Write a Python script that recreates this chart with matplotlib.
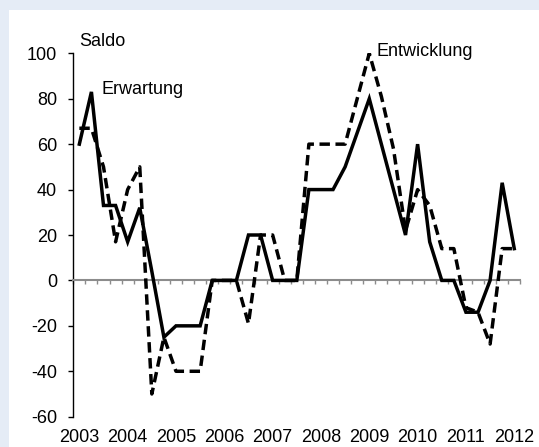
import matplotlib
matplotlib.use("Agg")
import matplotlib.pyplot as plt
from matplotlib.patches import Rectangle

plt.rcParams['font.family'] = ['Liberation Sans', 'DejaVu Sans']

# Quarterly data 2003Q1 .. 2012Q1
years = ["2003", "2004", "2005", "2006", "2007", "2008", "2009", "2010", "2011", "2012"]
erwartung = [60, 83, 33, 33, 17, 32, 4, -25,
             -20, -20, -20, 0, 0, 0, 20, 20,
             0, 0, 0, 40, 40, 40, 50, 65,
             80, 60, 40, 20, 60, 17, 0, 0,
             -14, -14, 0, 43, 14]
entwicklung = [67, 67, 50, 17, 40, 50, -50, -25,
               -40, -40, -40, 0, 0, 0, -19, 20,
               20, 0, 0, 60, 60, 60, 60, 80,
               100, 81, 58, 22, 40, 33, 14, 14,
               -12, -14, -28, 14, 14]
yticks = [-60, -40, -20, 0, 20, 40, 60, 80, 100]

W, H, DPI = 539, 447, 100
FS = 13
fig = plt.figure(figsize=(W / DPI, H / DPI), dpi=DPI)
fig.patch.set_facecolor('#E5ECF6')

bg = fig.add_axes([0, 0, 1, 1], zorder=-10)
bg.set_axis_off()
bg.add_patch(Rectangle((9 / W, 0), 1 - 9 / W, 1 - 10 / H, transform=bg.transAxes,
                       facecolor='white', edgecolor='none'))

ax = fig.add_axes([73.3 / W, 1 - 416.7 / H, (520.3 - 73.3) / W, (416.7 - 53.3) / H], zorder=1)
ax.set_facecolor('none')
n = len(erwartung)
x = list(range(n))

ax.plot(x, erwartung, color='black', lw=2.5, solid_joinstyle='miter', zorder=3)
ax.plot(x, entwicklung, color='black', lw=2.5, linestyle=(0, (3.0, 1.6)),
        dash_capstyle='butt', zorder=3)

ax.set_xlim(-0.5, n - 0.5)
ax.set_ylim(-60, 100)

# y axis
ax.spines['top'].set_visible(False)
ax.spines['right'].set_visible(False)
ax.spines['left'].set_color('black')
ax.spines['left'].set_linewidth(1.0)
ax.set_yticks(yticks)
ax.set_yticklabels([str(v) for v in yticks], fontsize=FS)
ax.tick_params(axis='y', direction='out', length=3.6, width=1, colors='black', pad=8)

# x axis at zero, gray with small ticks between categories
ax.spines['bottom'].set_position(('data', 0))
ax.spines['bottom'].set_color('#8C8C8C')
ax.spines['bottom'].set_linewidth(1.5)
ax.set_xticks([i - 0.5 for i in range(n + 1)])
ax.set_xticklabels([])
ax.tick_params(axis='x', direction='out', length=3, width=1, colors='#8C8C8C')

# year labels below plot
trans = ax.get_xaxis_transform()
for k, yr in enumerate(years):
    ax.text(4 * k, -0.058, yr, transform=trans, ha='center', va='center', fontsize=FS)

ax.text(0, 105, "Saldo", ha='left', va='center', fontsize=FS, clip_on=False)
ax.text(1.85, 84, "Erwartung", ha='left', va='center', fontsize=FS)
ax.text(24.6, 101, "Entwicklung", ha='left', va='center', fontsize=FS, clip_on=False)

fig.savefig("out.png", dpi=DPI, facecolor=fig.get_facecolor())
